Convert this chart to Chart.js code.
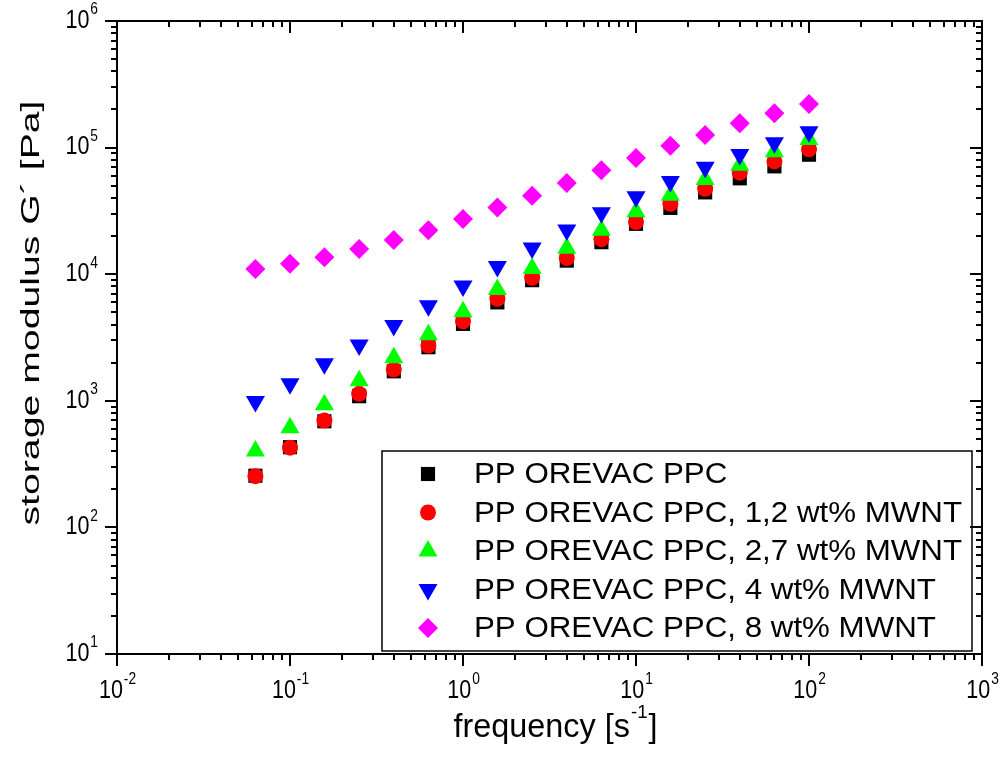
<!DOCTYPE html>
<html>
<head>
<meta charset="utf-8">
<title>storage modulus G´</title>
<script src="https://cdn.jsdelivr.net/npm/chart.js@4.4.0/dist/chart.umd.min.js"></script>
<style>
    html, body { margin: 0; padding: 0; background: #fff; }
    #chart { display: block; }
</style>
</head>
<body>
<canvas id="chart" width="1000" height="761"></canvas>
<script>
// ==========================
// data
// ==========================

const frequency = [0.0631, 0.1, 0.158, 0.251, 0.398, 0.631, 1, 1.58, 2.51, 3.98, 6.31, 10, 15.8, 25.1, 39.8, 63.1, 100];

const ppcPlain = [256, 430, 689, 1087, 1710, 2650, 4050, 5990, 8970, 12800, 17900, 25000, 33400, 44300, 57200, 71100, 87900];
const ppcMwnt12 = [254, 426, 698, 1135, 1766, 2735, 4250, 6400, 9380, 13400, 18900, 25800, 36000, 47300, 63400, 77800, 97000];
const ppcMwnt27 = [401, 612, 931, 1440, 2185, 3320, 5050, 7580, 11100, 16000, 22200, 31200, 42000, 56000, 72700, 92700, 115700];
const ppcMwnt4 = [986, 1366, 1965, 2754, 3930, 5630, 8060, 11520, 16080, 22390, 30580, 40880, 54000, 69900, 88300, 109300, 133500];
const ppcMwnt8 = [11000, 12100, 13600, 15800, 18600, 22200, 27300, 33700, 41700, 52500, 66200, 82800, 103500, 126000, 156000, 187000, 221000];

const seriesLabels = [
    "PP OREVAC PPC",
    "PP OREVAC PPC, 1,2 wt% MWNT",
    "PP OREVAC PPC, 2,7 wt% MWNT",
    "PP OREVAC PPC, 4 wt% MWNT",
    "PP OREVAC PPC, 8 wt% MWNT"
];

const xTickExponents = [-2, -1, 0, 1, 2, 3];
const yTickExponents = [1, 2, 3, 4, 5, 6];

const xTitle = ["frequency [s", "-1", "]"];
const yTitle = "storage modulus G´ [Pa]";

// ---------------- styles ----------------

const FONT = '"Liberation Sans", Arial, sans-serif';

const seriesColors = ["#000000", "#ff0000", "#00ff00", "#0000ff", "#ff00ff"];

const markers = [
    { pointStyle: "rect", rotation: 0, radius: 10 },
    { pointStyle: "circle", rotation: 0, radius: 8 },
    { pointStyle: "triangle", rotation: 0, radius: 11 },
    { pointStyle: "triangle", rotation: 180, radius: 11 },
    { pointStyle: "rectRot", rotation: 0, radius: 10 }
];

const allSeries = [ppcPlain, ppcMwnt12, ppcMwnt27, ppcMwnt4, ppcMwnt8];

// text drawn with a horizontal stretch factor
function drawScaled(ctx, text, x, y, size, sx, align, baseline) {
    ctx.save();
    ctx.font = size + "px " + FONT;
    ctx.translate(x, y);
    ctx.scale(sx, 1);
    ctx.textAlign = align;
    ctx.textBaseline = baseline;
    ctx.fillText(text, 0, 0);
    ctx.restore();
}

function textWidth(ctx, text, size, sx) {
    ctx.save();
    ctx.font = size + "px " + FONT;
    const w = ctx.measureText(text).width * sx;
    ctx.restore();
    return w;
}

// "10" with a superscript exponent
function drawPower(ctx, exp, x, y, align) {
    const baseSize = 25, supSize = 16, sx = 0.86;
    const bw = textWidth(ctx, "10", baseSize, sx);
    const sw = textWidth(ctx, String(exp), supSize, sx);
    const left = align === "center" ? x - (bw + sw) / 2 : x - bw - sw;
    drawScaled(ctx, "10", left, y, baseSize, sx, "left", "middle");
    drawScaled(ctx, String(exp), left + bw + 1, y - 11, supSize, sx, "left", "middle");
}

// ---------------- frame, ticks, titles ----------------

const framePlugin = {
    id: "frame",
    afterDatasetsDraw(chart) {
        const { ctx, chartArea: a, scales: { x, y } } = chart;
        ctx.save();
        ctx.strokeStyle = "#000";
        ctx.fillStyle = "#000";
        ctx.lineWidth = 2;
        ctx.strokeRect(a.left, a.top, a.right - a.left, a.bottom - a.top);

        ctx.beginPath();
        xTickExponents.forEach(e => {
            for (let m = 1; m <= 9; m++) {
                const v = m * Math.pow(10, e);
                if (v > x.max * 1.0001) break;
                const px = Math.round(x.getPixelForValue(v));
                const len = m === 1 ? 12 : 6;
                ctx.moveTo(px, a.bottom);
                ctx.lineTo(px, a.bottom + len);
                ctx.moveTo(px, a.top);
                ctx.lineTo(px, a.top + len);
            }
        });
        yTickExponents.forEach(e => {
            for (let m = 1; m <= 9; m++) {
                const v = m * Math.pow(10, e);
                if (v > y.max * 1.0001) break;
                const py = Math.round(y.getPixelForValue(v));
                const len = m === 1 ? 12 : 6;
                ctx.moveTo(a.left, py);
                ctx.lineTo(a.left - len, py);
                ctx.moveTo(a.right, py);
                ctx.lineTo(a.right - len, py);
            }
        });
        ctx.stroke();

        // tick labels
        xTickExponents.forEach(e => {
            drawPower(ctx, e, x.getPixelForValue(Math.pow(10, e)), a.bottom + 37, "center");
        });
        yTickExponents.forEach(e => {
            drawPower(ctx, e, a.left - 20, y.getPixelForValue(Math.pow(10, e)), "right");
        });

        // x title
        const tSize = 33, supT = 19;
        const raw = textWidth(ctx, xTitle[0], tSize, 1) + textWidth(ctx, xTitle[1], supT, 1) + textWidth(ctx, xTitle[2], tSize, 1);
        const tsx = 202 / raw;
        const w0 = textWidth(ctx, xTitle[0], tSize, tsx);
        const w1 = textWidth(ctx, xTitle[1], supT, tsx);
        const left = 553 - (w0 + w1 + 6) / 2;
        const ty = 728;
        drawScaled(ctx, xTitle[0], left, ty, tSize, tsx, "left", "middle");
        drawScaled(ctx, xTitle[1], left + w0 + 1, ty - 15, supT, tsx, "left", "middle");
        drawScaled(ctx, xTitle[2], left + w0 + w1 + 2, ty, tSize, tsx, "left", "middle");

        // y title
        ctx.save();
        ctx.translate(32, 313);
        ctx.rotate(-Math.PI / 2);
        const ySize = 26;
        const ysx = 425 / textWidth(ctx, yTitle, ySize, 1);
        drawScaled(ctx, yTitle, 0, 0, ySize, ysx, "center", "middle");
        ctx.restore();

        // legend
        const box = { left: 382, top: 451, width: 590, height: 200 };
        ctx.lineWidth = 1.5;
        ctx.strokeRect(box.left, box.top, box.width, box.height);
        const lSize = 29;
        const lsx = 488 / textWidth(ctx, seriesLabels[1], lSize, 1);
        seriesLabels.forEach((label, i) => {
            const rowY = 474 + i * 38.5;
            ctx.fillStyle = seriesColors[i];
            Chart.helpers.drawPoint(ctx, {
                pointStyle: markers[i].pointStyle,
                rotation: markers[i].rotation,
                radius: markers[i].radius,
                borderWidth: 0
            }, 428, rowY);
            ctx.fillStyle = "#000";
            drawScaled(ctx, label, 474, rowY + 1, lSize, lsx, "left", "middle");
        });

        ctx.restore();
    }
};

// ---------------- chart ----------------

const datasets = allSeries.map((values, i) => ({
    label: seriesLabels[i],
    data: frequency.map((f, k) => ({ x: f, y: values[k] })),
    showLine: false,
    backgroundColor: seriesColors[i],
    borderColor: seriesColors[i],
    borderWidth: 0,
    pointStyle: markers[i].pointStyle,
    rotation: markers[i].rotation,
    pointRadius: markers[i].radius,
    pointHoverRadius: markers[i].radius,
    order: allSeries.length - i
}));

new Chart(document.getElementById("chart").getContext("2d"), {
    type: "scatter",
    data: { datasets: datasets },
    options: {
        responsive: false,
        devicePixelRatio: 1,
        animation: false,
        layout: { padding: { left: 117, right: 18, top: 21, bottom: 107 } },
        plugins: {
            legend: { display: false },
            tooltip: { enabled: false }
        },
        scales: {
            x: { type: "logarithmic", min: 0.01, max: 1000, display: false },
            y: { type: "logarithmic", min: 10, max: 1000000, display: false }
        }
    },
    plugins: [framePlugin]
});
</script>
</body>
</html>
